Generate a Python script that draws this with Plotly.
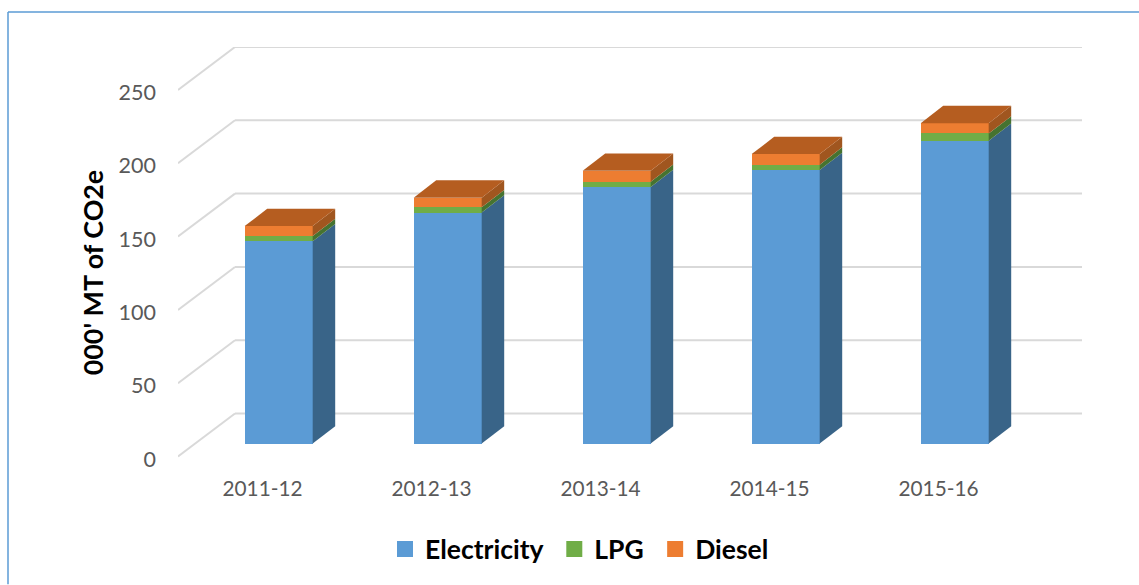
import plotly.graph_objects as go

years = ["2011-12", "2012-13", "2013-14", "2014-15", "2015-16"]
electricity = [138, 157.5, 175, 186.5, 206.5]
lpg = [3.5, 3.7, 3.5, 3.7, 5]
diesel = [6.8, 6.5, 7.5, 7.2, 7]
y_ticks = [0, 50, 100, 150, 200, 250]

W, H = 1139, 585
L, R, T, B = 178, 1082, 47, 459.5    # plot area in page pixels
PX_X, PX_Y = 169, 1.468              # pixels per category / per unit
X0 = 262.5                           # page x of first category on the front plane
x_lo = (L - X0) / PX_X
x_hi = (R - X0) / PX_X
y_hi = (B - T) / PX_Y

wall_sy = 2.5 / PX_Y                        # floor front edge above the tick-label baseline
back_dx, back_dy = 57 / PX_X, 43 / PX_Y     # wall depth
bar_sx, bar_sy = 16.2 / PX_X, 15.5 / PX_Y   # bar plane shift from the axis
depth_x, depth_y = 22.5 / PX_X, 17.3 / PX_Y # bar depth
bar_w = 68 / PX_X

series = [
    ("Electricity", electricity, "#5B9BD5", "#396488"),
    ("LPG", lpg, "#70AD47", "#467330"),
    ("Diesel", diesel, "#ED7D31", "#A0561F"),
]
legend_pad = {"Electricity": "\u00a0", "LPG": "\u00a0", "Diesel": ""}
TOP_COLOR = "#B55D20"
GRID = "#D9D9D9"

fig = go.Figure()
bases = [bar_sy] * len(years)
for name, vals, col, side in series:
    fig.add_trace(go.Bar(
        x=[i + bar_sx for i in range(len(years))], y=vals, base=bases, width=bar_w,
        marker=dict(color=col, line=dict(width=0)), name=name, showlegend=False,
    ))
    for i, v in enumerate(vals):
        r = i + bar_sx + bar_w / 2
        b, t = bases[i], bases[i] + v
        fig.add_trace(go.Scatter(
            x=[r, r + depth_x, r + depth_x, r, r], y=[b, b + depth_y, t + depth_y, t, b],
            mode="lines", fill="toself", fillcolor=side, line=dict(width=0),
            showlegend=False, hoverinfo="skip",
        ))
    bases = [b + v for b, v in zip(bases, vals)]

for i, t in enumerate(bases):
    l = i + bar_sx - bar_w / 2
    r = l + bar_w
    fig.add_trace(go.Scatter(
        x=[l, r, r + depth_x, l + depth_x, l], y=[t, t, t + depth_y, t + depth_y, t],
        mode="lines", fill="toself", fillcolor=TOP_COLOR, line=dict(width=0),
        showlegend=False, hoverinfo="skip",
    ))

# legend entries with large square swatches
for name, vals, col, side in series:
    fig.add_trace(go.Scatter(
        x=[None], y=[None], mode="markers", name=name + legend_pad[name],
        marker=dict(symbol="square", size=17, color=col),
    ))

shapes = []
grid_line = dict(color=GRID, width=2)
for v in y_ticks:
    y_front = v + wall_sy
    y_back = y_front + back_dy
    shapes.append(dict(type="line", xref="x", yref="y", layer="below",
                       x0=x_lo, y0=y_front, x1=x_lo + back_dx, y1=y_back, line=grid_line))
    shapes.append(dict(type="line", xref="x", yref="y", layer="below",
                       x0=x_lo + back_dx, y0=y_back, x1=x_hi, y1=y_back, line=grid_line))

# page border on the left and top
def px(x):
    return (x - L) / (R - L)
def py(y):
    return (B - y) / (B - T)
border = dict(color="#5B9BD5", width=1.5)
shapes.append(dict(type="line", xref="paper", yref="paper", x0=px(8), y0=py(H), x1=px(8), y1=py(12), line=border))
shapes.append(dict(type="line", xref="paper", yref="paper", x0=px(8), y0=py(12), x1=px(W), y1=py(12), line=border))

fig.update_layout(
    width=W, height=H, autosize=False,
    margin=dict(l=L, r=W - R, t=T, b=H - B),
    paper_bgcolor="white", plot_bgcolor="white",
    barmode="overlay", bargap=0,
    font=dict(family="Lato", color="#595959", size=20),
    shapes=shapes,
    xaxis=dict(range=[x_lo, x_hi], tickmode="array", tickvals=list(range(len(years))), ticktext=years,
               showgrid=False, zeroline=False, showline=False, ticks="", ticklabelstandoff=15,
               tickfont=dict(size=20.8, color="#595959")),
    yaxis=dict(range=[0, y_hi], tickmode="array", tickvals=y_ticks,
               showgrid=False, zeroline=False, showline=False, ticks="", ticklabelstandoff=21,
               tickfont=dict(size=21.5, color="#595959")),
    legend=dict(orientation="h", x=px(385), xanchor="left", y=py(550), yanchor="middle",
                font=dict(family="Lato", size=26.5, color="black", weight="bold"),
                bgcolor="rgba(0,0,0,0)", itemclick=False, itemdoubleclick=False),
    annotations=[dict(text="<b>000' MT of CO2e</b>", xref="paper", yref="paper", x=px(92.5), y=py(273),
                      textangle=-90, showarrow=False, xanchor="center", yanchor="middle",
                      font=dict(family="Lato", size=26.8, color="black"))],
)

fig.write_html("out.html", config={"displayModeBar": False},
               post_script="document.body.style.margin='0';document.documentElement.style.overflow='hidden';")
